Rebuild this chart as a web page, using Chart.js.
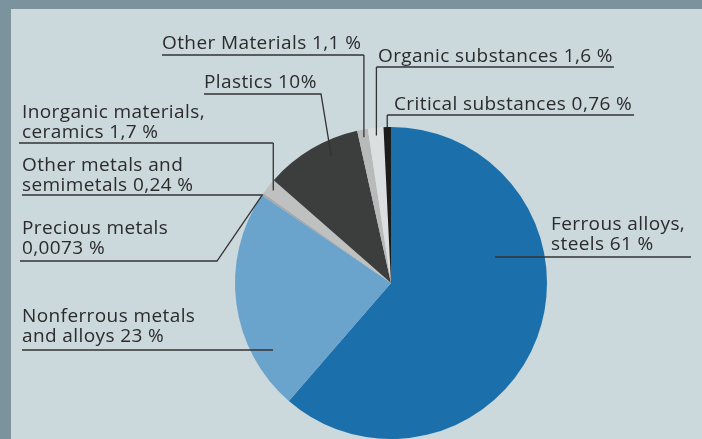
<!DOCTYPE html>
<html>
<head>
<meta charset="utf-8">
<script src="https://cdn.jsdelivr.net/npm/chart.js@4.4.1/dist/chart.umd.min.js"></script>
<style>
    html, body { margin: 0; padding: 0; background: #cbd8dc; }
    #wrap { width: 702px; height: 439px; position: relative; }
</style>
</head>
<body>
<div id="wrap"><canvas id="chart" width="702" height="439"></canvas></div>
<script>
// material shares in percent, clockwise from 12 o'clock
const materials = [
    "Ferrous alloys, steels",
    "Nonferrous metals and alloys",
    "Precious metals",
    "Other metals and semimetals",
    "Inorganic materials, ceramics",
    "Plastics",
    "Other Materials",
    "Organic substances",
    "Critical substances"
];
const shares = [61, 23, 0.0073, 0.24, 1.7, 10, 1.1, 1.6, 0.76];
const sliceColors = [
    "#1b70ab", "#6aa3cc", "#8a8c8d", "#a7a9aa", "#bfc1c1",
    "#3c3d3d", "#b8baba", "#dcdfe0", "#1c1c1c"
];
const labelTexts = [
    ["Ferrous alloys,", "steels 61 %"],
    ["Nonferrous metals", "and alloys 23 %"],
    ["Precious metals", "0,0073 %"],
    ["Other metals and", "semimetals 0,24 %"],
    ["Inorganic materials,", "ceramics 1,7 %"],
    ["Plastics 10%"],
    ["Other Materials 1,1 %"],
    ["Organic substances 1,6 %"],
    ["Critical substances 0,76 %"]
];

// label layout: text position, underline, and how the leader reaches the slice
// t = position inside the slice (0..1), k = fraction of the radius
const labelLayout = [
    { x: 551, y: 230, ux0: 495, ux1: 691, uy: 257, mode: "h" },
    { x: 22, y: 322, ux0: 22, ux1: 273, uy: 350, mode: "h" },
    { x: 22, y: 234, ux0: 20, ux1: 217, uy: 261, mode: "d", t: 0.5, k: 1.0 },
    { x: 22, y: 171, ux0: 22, ux1: 263, uy: 195, mode: "h" },
    { x: 22, y: 118, ux0: 19, ux1: 273, uy: 143, mode: "v", t: 0.5, k: 0.96 },
    { x: 204, y: 88, ux0: 204, ux1: 321, uy: 94, mode: "d", t: 0.65, k: 0.9 },
    { x: 162, y: 49, ux0: 162, ux1: 362, uy: 55, mode: "v", t: 0.5, k: 0.95 },
    { x: 378, y: 62, ux0: 380, ux1: 614, uy: 67, mode: "v", t: 0.5, k: 0.95 },
    { x: 394, y: 110, ux0: 392, ux1: 634, uy: 115, mode: "v", t: 0.5, k: 1.0 }
];

const frameColor = "#7b939d";
const panelColor = "#cbd8dc";
const textColor = "#2b2b2b";
const lineColor = "#333333";

const backgroundPlugin = {
    id: "panel",
    beforeDraw(chart) {
        const ctx = chart.ctx;
        ctx.save();
        ctx.fillStyle = frameColor;
        ctx.fillRect(0, 0, chart.width, chart.height);
        ctx.fillStyle = panelColor;
        ctx.fillRect(11, 9, chart.width - 11, chart.height - 9);
        ctx.restore();
    }
};

const leaderPlugin = {
    id: "leaders",
    afterDatasetsDraw(chart) {
        const ctx = chart.ctx;
        const arcs = chart.getDatasetMeta(0).data;
        ctx.save();
        ctx.font = "19px 'Open Sans'";
        ctx.letterSpacing = "0.4px";
        ctx.fillStyle = textColor;
        ctx.textBaseline = "alphabetic";
        ctx.strokeStyle = lineColor;
        ctx.lineWidth = 1.3;

        labelLayout.forEach((lay, i) => {
            const lines = labelTexts[i];
            lines.forEach((line, j) => {
                ctx.fillText(line, lay.x, lay.y + j * 19.5);
            });

            ctx.beginPath();
            if (lay.mode === "h") {
                ctx.moveTo(lay.ux0, lay.uy);
                ctx.lineTo(lay.ux1, lay.uy);
            } else {
                const p = arcs[i].getProps(["x", "y", "startAngle", "endAngle", "outerRadius"], true);
                const a = p.startAngle + (p.endAngle - p.startAngle) * lay.t;
                const ax = p.x + Math.cos(a) * p.outerRadius * lay.k;
                const ay = p.y + Math.sin(a) * p.outerRadius * lay.k;
                if (lay.mode === "v") {
                    ctx.moveTo(Math.min(lay.ux0, ax), lay.uy);
                    ctx.lineTo(Math.max(lay.ux1, ax), lay.uy);
                    ctx.moveTo(ax, lay.uy);
                    ctx.lineTo(ax, ay);
                } else {
                    ctx.moveTo(lay.ux0, lay.uy);
                    ctx.lineTo(lay.ux1, lay.uy);
                    ctx.lineTo(ax, ay);
                }
            }
            ctx.stroke();
        });
        ctx.restore();
    }
};

new Chart(document.getElementById("chart"), {
    type: "pie",
    data: {
        labels: materials,
        datasets: [{
            data: shares,
            backgroundColor: sliceColors,
            borderWidth: 0
        }]
    },
    options: {
        responsive: false,
        animation: false,
        layout: {
            padding: { left: 235, right: 155, top: 127, bottom: 0 }
        },
        plugins: {
            legend: { display: false },
            tooltip: { enabled: false }
        }
    },
    plugins: [backgroundPlugin, leaderPlugin]
});
</script>
</body>
</html>
